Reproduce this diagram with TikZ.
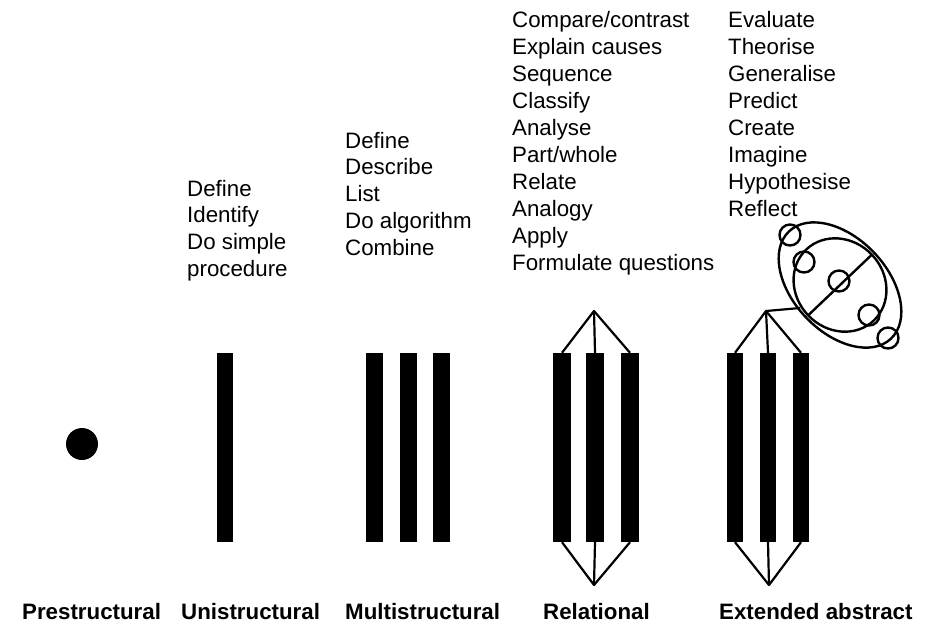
\documentclass[tikz,border=0pt]{standalone}
\usepackage{fontspec}
\setmainfont{Liberation Sans}
\begin{document}
\begin{tikzpicture}[x=1pt,y=-1pt,
  bar/.style={rectangle, fill=black, draw=none, inner sep=0pt, minimum height=189pt},
  conn/.style={line width=2.2pt, line join=round},
  outl/.style={line width=2.4pt},
  word/.style={inner sep=0pt, anchor=base west, font=\fontsize{22.3pt}{27pt}\selectfont},
  lvl/.style={inner sep=0pt, anchor=base west, font=\fontsize{22.3pt}{27pt}\selectfont\bfseries}]
\useasboundingbox (0,0) rectangle (933,625);
\fill[white] (0,0) rectangle (933,625);

% Prestructural
\node[circle, fill=black, inner sep=0pt, minimum size=32pt] (pre) at (82,444) {};

% Unistructural
\node[bar, minimum width=16pt] (u1) at (225,447.5) {};

% Multistructural
\node[bar, minimum width=17pt] (m1) at (374.5,447.5) {};
\node[bar, minimum width=17pt] (m2) at (408,447.5) {};
\node[bar, minimum width=17pt] (m3) at (441.5,447.5) {};

% Relational
\node[bar, minimum width=18pt] (r1) at (562,447.5) {};
\node[bar, minimum width=18pt] (r2) at (595,447.5) {};
\node[bar, minimum width=18pt] (r3) at (630,447.5) {};
\coordinate (rtop) at (594,311);
\coordinate (rbot) at (594,585);
\draw[conn] (r1.north) -- (rtop) -- (r3.north);
\draw[conn] (rtop) -- (r2.north);
\draw[conn] (r1.south) -- (rbot) -- (r3.south);
\draw[conn] (rbot) -- (r2.south);

% Extended abstract
\node[bar, minimum width=16pt] (e1) at (735,447.5) {};
\node[bar, minimum width=16pt] (e2) at (768,447.5) {};
\node[bar, minimum width=16pt] (e3) at (801,447.5) {};
\coordinate (etop) at (766,311);
\coordinate (ebot) at (769,585);
\draw[conn] (e1.north) -- (etop) -- (e3.north);
\draw[conn] (etop) -- (e2.north);
\draw[conn] (e1.south) -- (ebot) -- (e3.south);
\draw[conn] (ebot) -- (e2.south);
\coordinate (elink) at (800,308);
\draw[conn] (etop) -- (elink);

% ellipses
\begin{scope}[shift={(840,285)}, rotate=-46.4]
  \draw[outl] (0,0) ellipse [x radius=74pt, y radius=47pt];
  \draw[outl] (0,0) ellipse [x radius=49pt, y radius=44pt];
  \draw[outl] (0pt,44pt) -- (0pt,-44pt);
\end{scope}
\foreach \p/\n in {{(790,235)}/c1,{(804,262)}/c2,{(839,281)}/c3,{(869,315)}/c4,{(888,338)}/c5}
  \draw[outl] \p circle [radius=10.5pt];

% texts
\foreach \t [count=\i] in {Define,Identify,Do simple,procedure}
  \node[word] (ut\i) at (187,{196+(\i-1)*26.9}) {\t};
\foreach \t [count=\i] in {Define,Describe,List,Do algorithm,Combine}
  \node[word] (mt\i) at (345,{148+(\i-1)*26.9}) {\t};
\foreach \t [count=\i] in {Compare/contrast,Explain causes,Sequence,Classify,Analyse,Part/whole,Relate,Analogy,Apply,Formulate questions}
  \node[word] (rt\i) at (512,{27+(\i-1)*27.1}) {\t};
\foreach \t [count=\i] in {Evaluate,Theorise,Generalise,Predict,Create,Imagine,Hypothesise,Reflect}
  \node[word] (et\i) at (728,{27+(\i-1)*27.1}) {\t};

% level labels
\node[lvl] (lpre) at (22,619) {Prestructural};
\node[lvl] (luni) at (181,619) {Unistructural};
\node[lvl] (lmul) at (345,619) {Multistructural};
\node[lvl] (lrel) at (543,619) {Relational};
\node[lvl] (lext) at (719,619) {Extended abstract};
\end{tikzpicture}
\end{document}
